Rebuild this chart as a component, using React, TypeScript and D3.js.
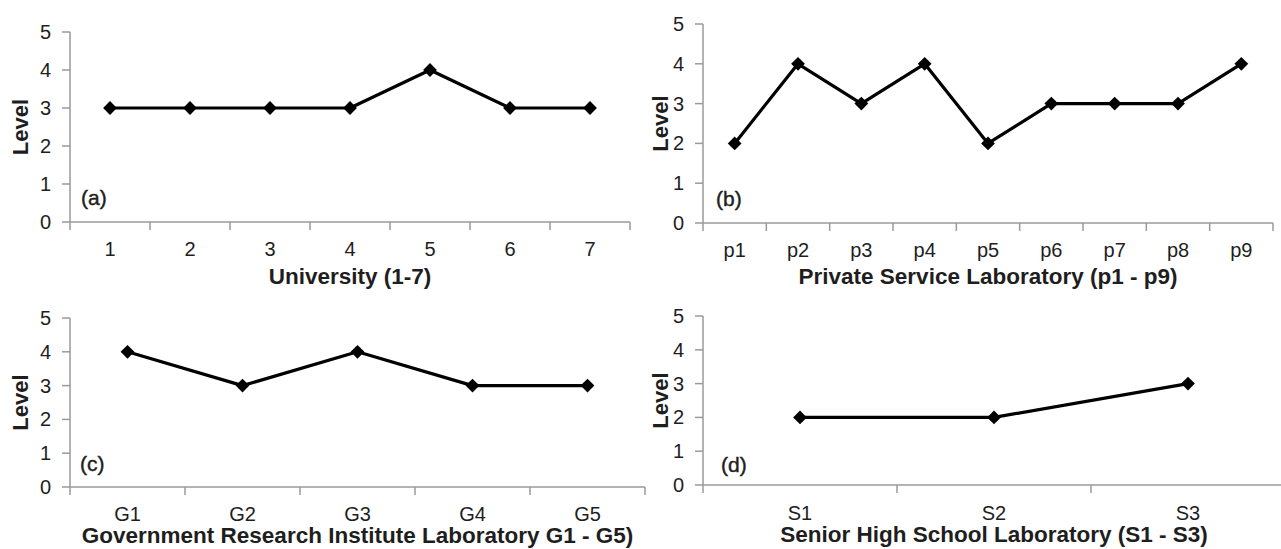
import React from "react";
import * as d3 from "d3";

const universityLabels = ["1", "2", "3", "4", "5", "6", "7"];
const universityLevels = [3, 3, 3, 3, 4, 3, 3];

const privateLabels = ["p1", "p2", "p3", "p4", "p5", "p6", "p7", "p8", "p9"];
const privateLevels = [2, 4, 3, 4, 2, 3, 3, 3, 4];

const governmentLabels = ["G1", "G2", "G3", "G4", "G5"];
const governmentLevels = [4, 3, 4, 3, 3];

const schoolLabels = ["S1", "S2", "S3"];
const schoolLevels = [2, 2, 3];

const levelTicks = [0, 1, 2, 3, 4, 5];

const FONT = "'Liberation Sans', Arial, sans-serif";
const AXIS = "#9a9a9a";
const INK = "#1e1e1e";

type PanelProps = {
  labels: string[];
  values: number[];
  tag: string;
  title: string;
  left: number;
  right: number;
  top: number;
  bottom: number;
  tickY: number;
  titleY: number;
  levelX: number;
  tagX: number;
  tagY: number;
};

function Panel(p: PanelProps) {
  const x = d3.scaleBand<string>().domain(p.labels).range([p.left, p.right]);
  const y = d3.scaleLinear().domain([0, 5]).range([p.bottom, p.top]);
  const cx = (l: string) => (x(l) ?? 0) + x.bandwidth() / 2;
  const pts: [number, number][] = p.labels.map((l, i) => [cx(l), y(p.values[i])]);
  const line = d3.line()(pts) ?? "";
  const marker = d3.symbol(d3.symbolSquare, 95)() ?? "";
  const bounds = [...p.labels.map((l) => x(l) ?? 0), p.right];
  const midX = (p.left + p.right) / 2;
  return (
    <g>
      {/* value axis */}
      <line x1={p.left} x2={p.left} y1={p.top} y2={p.bottom} stroke={AXIS} strokeWidth={1.5} />
      {levelTicks.map((t) => (
        <g key={t}>
          <line x1={p.left - 8} x2={p.left} y1={y(t)} y2={y(t)} stroke={AXIS} strokeWidth={1.5} />
          <text x={p.left - 19} y={y(t) + 7} textAnchor="end" fontSize={20} fontFamily={FONT} fill={INK}>
            {t}
          </text>
        </g>
      ))}
      {/* category axis */}
      <line x1={p.left} x2={p.right} y1={p.bottom} y2={p.bottom} stroke={AXIS} strokeWidth={1.5} />
      {bounds.map((b, i) => (
        <line key={i} x1={b} x2={b} y1={p.bottom} y2={p.bottom + 8} stroke={AXIS} strokeWidth={1.5} />
      ))}
      {p.labels.map((l) => (
        <text key={l} x={cx(l)} y={p.tickY} textAnchor="middle" fontSize={20} fontFamily={FONT} fill={INK}>
          {l}
        </text>
      ))}
      <text x={midX} y={p.titleY} textAnchor="middle" fontSize={22.5} fontWeight="bold" fontFamily={FONT} fill={INK}>
        {p.title}
      </text>
      <text
        transform={`translate(${p.levelX + 8},${(p.top + p.bottom) / 2}) rotate(-90)`}
        textAnchor="middle"
        fontSize={22}
        fontWeight="bold"
        fontFamily={FONT}
        fill={INK}
      >
        Level
      </text>
      <text x={p.tagX} y={p.tagY} fontSize={21} fontFamily={FONT} fill={INK} stroke={INK} strokeWidth={0.4}>
        {p.tag}
      </text>
      <path d={line} fill="none" stroke="#000" strokeWidth={3.2} strokeLinejoin="round" />
      {pts.map(([px, py], i) => (
        <path key={i} d={marker} transform={`translate(${px},${py}) rotate(45)`} fill="#000" />
      ))}
    </g>
  );
}

export default function App() {
  return (
    <svg width={1281} height={549} style={{ position: "absolute", left: 0, top: 0, background: "#fff" }}>
      <rect width={1281} height={549} fill="#fff" />
      <Panel
        labels={universityLabels}
        values={universityLevels}
        tag="(a)"
        title="University (1-7)"
        left={70}
        right={630}
        top={32}
        bottom={222}
        tickY={256}
        titleY={284}
        levelX={20}
        tagX={81}
        tagY={205}
      />
      <Panel
        labels={privateLabels}
        values={privateLevels}
        tag="(b)"
        title="Private Service Laboratory (p1 - p9)"
        left={703}
        right={1273}
        top={24}
        bottom={223}
        tickY={257}
        titleY={284}
        levelX={660}
        tagX={716}
        tagY={206}
      />
      <Panel
        labels={governmentLabels}
        values={governmentLevels}
        tag="(c)"
        title="Government Research Institute Laboratory G1 - G5)"
        left={70}
        right={645}
        top={318}
        bottom={487}
        tickY={521}
        titleY={543}
        levelX={20}
        tagX={80}
        tagY={471}
      />
      <Panel
        labels={schoolLabels}
        values={schoolLevels}
        tag="(d)"
        title="Senior High School Laboratory (S1 - S3)"
        left={703}
        right={1285}
        top={316}
        bottom={485}
        tickY={520}
        titleY={542}
        levelX={660}
        tagX={721}
        tagY={472}
      />
    </svg>
  );
}
